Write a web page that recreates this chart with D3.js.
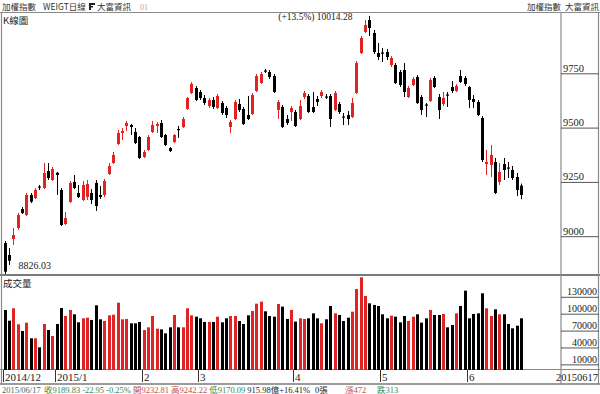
<!DOCTYPE html>
<html><head><meta charset="utf-8">
<script src="https://cdn.jsdelivr.net/npm/d3@7/dist/d3.min.js"></script>
<style>
body{margin:0;background:#fff}
svg{display:block}
text{font-family:"Liberation Serif","Noto Sans CJK TC",serif;}
.cjk{font-family:"Noto Sans CJK TC","Liberation Serif",sans-serif;}
</style>
</head><body><svg id="c" width="600" height="394"></svg>
<script>
// ---------- data ----------
const dates = [
"20141216","20141217","20141218","20141219","20141222","20141223","20141224","20141225","20141226","20141229","20141230","20141231",
"20150105","20150106","20150107","20150108","20150109","20150112","20150113","20150114","20150115","20150116","20150119","20150120","20150121","20150122","20150123","20150126","20150127","20150128","20150129","20150130",
"20150202","20150203","20150204","20150205","20150206","20150209","20150210","20150211","20150212","20150213","20150224","20150225","20150226",
"20150302","20150303","20150304","20150305","20150306","20150309","20150310","20150311","20150312","20150313","20150316","20150317","20150318","20150319","20150320","20150323","20150324","20150325","20150326","20150327","20150330","20150331",
"20150401","20150402","20150407","20150408","20150409","20150410","20150413","20150414","20150415","20150416","20150417","20150420","20150421","20150422","20150423","20150424","20150427","20150428","20150429","20150430",
"20150504","20150505","20150506","20150507","20150508","20150511","20150512","20150513","20150514","20150515","20150518","20150519","20150520","20150521","20150522","20150525","20150526","20150527","20150528","20150529",
"20150601","20150602","20150603","20150604","20150605","20150608","20150609","20150610","20150611","20150612","20150615","20150616","20150617"];

const openP = [8968.7,8913.5,8987.1,9037.8,9125.3,9097.6,9189.7,9175.9,9228.9,9222.0,9300.2,9258.8,
9292.4,9212.7,9056.2,9157.5,9249.6,9198.9,9166.7,9180.5,9198.9,9245.0,9189.7,9189.7,9286.4,9337.0,9424.5,9475.2,9507.4,9512.0,9479.8,9456.8,
9364.7,9396.9,9479.8,9507.4,9521.2,9466.0,9406.1,9433.7,9493.6,9502.8,9585.7,9659.3,9682.4,
9663.9,9636.3,9599.5,9627.1,9590.3,9613.3,9590.3,9502.8,9539.6,9608.7,9585.7,9558.0,9562.6,9668.5,9705.4,9762.9,9756.0,9737.6,9581.1,9594.9,9539.6,9571.9,
9571.9,9539.6,9640.9,9645.5,9594.9,9631.7,9645.5,9643.2,9645.5,9581.1,9608.7,9551.1,9558.0,9548.8,9659.3,9843.5,9940.2,9995.4,9935.6,9843.5,
9845.8,9848.1,9788.2,9788.2,9756.0,9765.2,9640.9,9696.2,9733.0,9640.9,9606.4,9622.5,9728.4,9640.9,9608.7,9652.4,9687.0,9668.5,9737.6,9728.4,
9687.0,9631.7,9617.9,9544.2,9332.4,9328.1,9341.6,9249.6,9332.4,9316.3,9304.8,9272.6,9232.81];
const highP = [8978.0,8945.7,9037.8,9106.8,9134.5,9198.9,9198.9,9222.0,9235.8,9337.0,9337.0,9318.6,
9295.6,9222.0,9111.5,9254.2,9281.8,9235.8,9254.2,9258.8,9217.3,9258.8,9231.2,9263.4,9337.0,9387.7,9489.0,9498.2,9530.4,9516.6,9498.2,9461.4,
9396.9,9466.0,9530.4,9525.8,9535.0,9470.6,9410.7,9470.6,9507.4,9548.8,9640.9,9710.0,9691.6,
9673.1,9650.1,9636.3,9640.9,9654.7,9622.5,9599.5,9535.0,9627.1,9631.7,9594.9,9645.5,9659.3,9746.8,9756.0,9769.8,9765.2,9746.8,9627.1,9604.1,9558.0,9599.5,
9581.1,9627.1,9668.5,9654.7,9663.9,9645.5,9673.1,9654.7,9654.7,9668.5,9617.9,9567.2,9576.5,9636.3,9806.6,9921.8,9995.4,10014.28,9949.4,9889.5,
9866.5,9861.9,9829.7,9797.4,9765.2,9797.4,9691.6,9733.0,9742.2,9650.1,9613.3,9728.4,9737.6,9654.7,9663.9,9663.9,9714.6,9700.8,9765.2,9737.6,
9691.6,9650.1,9627.1,9553.4,9396.9,9420.1,9360.1,9337.0,9360.1,9341.6,9323.2,9291.0,9242.22];
const lowP = [8826.03,8867.4,8959.5,9028.6,9102.2,9093.0,9152.9,9171.3,9212.7,9217.3,9258.8,9254.2,
9189.7,9047.0,9051.6,9152.9,9217.3,9175.9,9162.1,9166.7,9148.3,9116.1,9171.3,9180.5,9281.8,9332.4,9420.0,9442.9,9484.4,9466.0,9424.5,9355.5,
9360.1,9392.3,9475.2,9475.2,9452.2,9415.3,9387.7,9429.1,9452.2,9498.2,9581.1,9654.7,9622.5,
9627.1,9604.1,9590.3,9585.7,9585.7,9558.0,9544.2,9475.2,9535.0,9571.9,9512.0,9535.0,9558.0,9663.9,9700.8,9751.4,9723.8,9659.3,9539.6,9498.2,9512.0,9530.4,
9502.8,9535.0,9631.7,9567.2,9567.2,9599.5,9636.3,9631.7,9502.8,9576.5,9562.6,9512.0,9512.0,9544.2,9654.7,9838.9,9935.6,9921.8,9838.9,9811.3,
9802.1,9811.3,9779.0,9700.8,9687.0,9640.9,9636.3,9691.6,9608.7,9558.0,9548.8,9617.9,9682.4,9539.6,9599.5,9594.9,9659.3,9663.9,9705.4,9691.6,
9590.3,9590.3,9553.4,9341.6,9281.8,9272.6,9194.3,9235.8,9258.8,9268.0,9258.8,9185.1,9170.09];
const closeP = [8836.6,8887.2,9005.6,9097.6,9106.8,9189.7,9158.9,9212.7,9224.3,9291.0,9268.0,9309.4,
9281.8,9051.6,9083.8,9245.0,9222.0,9180.5,9235.8,9240.4,9166.7,9139.1,9180.5,9254.2,9323.2,9373.9,9475.2,9484.4,9521.2,9502.8,9429.1,9360.1,
9387.7,9456.8,9512.0,9516.6,9456.8,9419.9,9392.3,9466.0,9489.0,9539.6,9636.3,9700.8,9627.1,
9636.3,9613.3,9627.1,9594.9,9645.5,9567.2,9558.0,9525.8,9617.9,9581.1,9516.6,9539.6,9650.1,9737.6,9746.8,9758.3,9733.0,9663.9,9617.9,9502.8,9521.2,9590.3,
9507.4,9599.5,9659.3,9571.9,9571.9,9617.9,9663.9,9638.6,9539.6,9659.3,9571.9,9546.5,9539.6,9613.3,9797.4,9912.5,9972.4,9958.6,9848.1,9825.1,
9841.2,9825.1,9820.5,9705.4,9696.2,9663.9,9682.4,9723.8,9613.3,9581.1,9601.8,9719.2,9687.0,9581.1,9636.3,9647.8,9668.5,9691.6,9710.0,9700.8,
9627.1,9617.9,9558.0,9350.9,9341.6,9374.2,9198.9,9295.6,9304.8,9311.7,9268.0,9212.78,9189.83];
const volumeK = [106.6,87.6,109.6,81.1,69.3,84.0,56.3,56.3,40.3,81.7,71.0,60.4,
81.7,110.0,95.9,106.6,98.9,84.7,91.8,92.9,88.8,114.9,90.0,87.0,97.1,98.2,119.6,90.0,90.6,82.9,82.9,85.3,
71.0,75.8,95.9,73.4,72.2,65.1,75.8,97.7,75.8,75.8,109.6,97.1,94.7,
91.8,85.3,85.3,85.3,94.7,84.7,91.8,95.9,95.9,87.0,81.7,97.1,104.8,117.8,121.4,104.2,95.9,94.7,117.2,112.5,90.6,106.6,
85.9,91.8,90.6,91.8,100.6,91.8,82.9,90.0,113.7,100.6,97.7,87.0,92.9,103.6,143.9,164.6,131.4,118.4,115.5,113.7,
98.9,91.8,96.5,94.7,84.7,95.9,87.0,94.7,98.9,84.1,91.8,106.6,97.7,97.7,99.5,75.8,79.9,100.6,113.7,140.9,
91.8,99.5,100.6,136.2,109.6,95.9,107.8,98.9,98.9,81.7,74.0,78.7,91.8];
const priceTicks = [9000, 9250, 9500, 9750];
const volumeTicks = [10000, 40000, 70000, 100000, 130000];
const monthLabels = ["2014/12","2015/1","2","3","4","5","6"];

// ---------- drawing ----------
const W = 600, H = 394;
const svg = d3.select("#c");
svg.append("rect").attr("width",W).attr("height",H).attr("fill","#fff");
const n = dates.length;
const RED = "#e02424", BLACK = "#000";
const isUp = i => closeP[i] > openP[i];
const col = i => isUp(i) ? RED : BLACK;

const x = d3.scaleBand().domain(d3.range(n)).range([2.5, 523.3]).padding(0);
const cx = i => Math.round(x(i) + x.bandwidth()/2) + 0.5;
const y = d3.scaleLinear().domain([9000, 9750]).range([236.2, 73.3]);
const yv = d3.scaleLinear().domain([0, 130000]).range([370, 296.8]);

const frame = "#8a8a8a";
const hl = (yy, x1, x2, w=1, c=frame) => svg.append("line").attr("x1",x1).attr("x2",x2).attr("y1",yy).attr("y2",yy).attr("stroke",c).attr("stroke-width",w);
const vl = (xx, y1, y2, w=1, c=frame) => svg.append("line").attr("x1",xx).attr("x2",xx).attr("y1",y1).attr("y2",y2).attr("stroke",c).attr("stroke-width",w);
hl(12.5, 0, 600, 1.2);
hl(275, 0, 600, 1.8, "#7a7a7a");
hl(369.5, 0, 600, 1.2);
hl(384, 0, 600, 1.5, "#7a7a7a");
vl(1.5, 12, 384, 1.2);
vl(561, 12, 384, 1.2);
vl(598.5, 12, 384, 1.2);

const txt = (s, xx, yy, size, fill="#222", anchor="start", cls="") =>
  svg.append("text").attr("x",xx).attr("y",yy).attr("font-size",size).attr("fill",fill)
     .attr("text-anchor",anchor).attr("class",cls).text(s);

// header
txt("加權指數", 2, 9.5, 8.5, "#333", "start", "cjk");
txt("WEIGT日線", 43, 9.5, 8.5, "#333", "start", "cjk");
svg.append("rect").attr("x",89).attr("y",3).attr("width",2).attr("height",7).attr("fill","#222");
svg.append("rect").attr("x",89).attr("y",3).attr("width",6).attr("height",2).attr("fill","#222");
svg.append("rect").attr("x",89).attr("y",6).attr("width",4).attr("height",1.5).attr("fill","#222");
txt("大富資訊", 97, 9.5, 8.5, "#333", "start", "cjk");
txt("01", 140, 9.5, 8, "#aaa");
txt("加權指數", 527, 9.5, 8.5, "#333", "start", "cjk");
txt("大富資訊", 565, 9.5, 8.5, "#333", "start", "cjk");
txt("K線圖", 3, 24, 9.5, "#222", "start", "cjk");
txt("成交量", 3, 287, 9.5, "#222", "start", "cjk");

// price axis (right)
const pa = svg.append("g").attr("transform","translate(561,0)")
  .call(d3.axisRight(y).tickValues(priceTicks).tickSize(38).tickFormat(d3.format("d")));
pa.select(".domain").remove();
pa.selectAll(".tick line").attr("stroke","#555");
pa.selectAll(".tick text").attr("x",2).attr("dy","-2").attr("font-size",10.5).attr("fill","#222")
  .attr("font-family","Liberation Serif");
// volume axis (right)
const va = svg.append("g").attr("transform","translate(561,0)")
  .call(d3.axisRight(yv).tickValues(volumeTicks).tickSize(38).tickFormat(d3.format("d")));
va.select(".domain").remove();
va.selectAll(".tick line").attr("stroke","#555");
va.selectAll(".tick text").attr("x",36).attr("dy","-2").attr("text-anchor","end")
  .attr("font-size",10).attr("fill","#222").attr("font-family","Liberation Serif");

// candles
const idx = d3.range(n);
const cg = svg.append("g");
cg.selectAll("line").data(idx).join("line")
  .attr("x1",cx).attr("x2",cx)
  .attr("y1",i=>y(highP[i])).attr("y2",i=>y(lowP[i]))
  .attr("stroke",col).attr("stroke-width",1);
cg.selectAll("rect").data(idx).join("rect")
  .attr("x",i=>cx(i)-1.5).attr("width",3)
  .attr("y",i=>y(Math.max(openP[i],closeP[i])))
  .attr("height",i=>Math.max(1.2, Math.abs(y(openP[i])-y(closeP[i]))))
  .attr("fill",col);

// volume
svg.append("g").selectAll("rect").data(idx).join("rect")
  .attr("x",i=>cx(i)-1.5).attr("width",3)
  .attr("y",i=>yv(volumeK[i]*1000))
  .attr("height",i=>yv(0)-yv(volumeK[i]*1000))
  .attr("fill",col);

// annotations: high / low
const hiI = d3.maxIndex(highP), loI = d3.minIndex(lowP);
const pct = (highP[hiI]/lowP[loI]-1)*100;
txt(`(+${pct.toFixed(1)}%) ${highP[hiI].toFixed(2)}`, cx(hiI)-17, y(highP[hiI])+4, 9.5, "#222", "end");
txt(lowP[loI].toFixed(2), cx(loI)+13, y(lowP[loI])-5, 10, "#222", "start");

// date axis
const tickIdx = [];
idx.forEach(i => { if (i===0 || dates[i].slice(0,6)!==dates[i-1].slice(0,6)) tickIdx.push(i); });
tickIdx.forEach((ti,k) => {
  const xx = Math.max(2, cx(ti)-2);
  vl(xx, 370, 382, 1, "#333");
  txt(monthLabels[k], xx+1.5, 381, 11, "#222");
});
txt(dates[n-1], 598, 381, 10.5, "#222", "end");

// bottom info line
const L = n-1;
const chg = closeP[L]-closeP[L-1];
const d = dates[L];
const info = [
  [`${d.slice(0,4)}/${d.slice(4,6)}/${d.slice(6)}`, 2, "#3f6b5a"],
  [`收${closeP[L].toFixed(2)}`, 44, "#2e8b57"],
  [`${chg.toFixed(2)}`, 82, "#2e8b57"],
  [`${(chg/closeP[L-1]*100).toFixed(2)}%`, 105, "#2e8b57"],
  [`開${openP[L].toFixed(2)}`, 132, "#c0504d"],
  [`高${highP[L].toFixed(2)}`, 168, "#c0504d"],
  [`低${lowP[L].toFixed(2)}`, 207, "#2e8b57"],
  ["915.98億+16.41%", 228, "#222"],
  ["0張", 315, "#222"],
  ["漲472", 345, "#c0504d"],
  ["跌313", 377, "#2e8b57"]
];
let prevEnd = 0;
info.forEach(([s,xx,c]) => {
  const sx = Math.max(xx, prevEnd + 2);
  const t = txt(s, sx, 392.5, 8.5, c);
  prevEnd = sx + t.node().getComputedTextLength();
});
</script>
</body></html>
